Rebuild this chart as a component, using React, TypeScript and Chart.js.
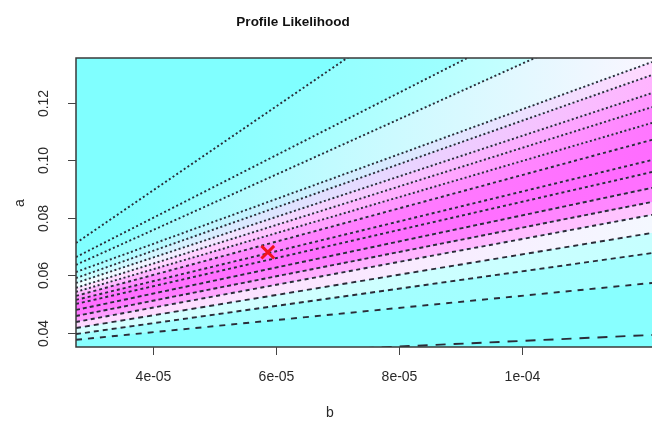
import { useEffect, useRef } from "react";
import { Chart, registerables } from "chart.js";

Chart.register(...registerables);

// ---------- text ----------
const chartTitle = "Profile Likelihood";
const xTitle = "b";
const yTitle = "a";

// ---------- axes ----------
const bRange = [2.75e-5, 1.212e-4];
const aRange = [0.035, 0.1356];
const xTickValues = [4e-5, 6e-5, 8e-5, 1e-4];
const xTickLabels = ["4e-05", "6e-05", "8e-05", "1e-04"];
const yTickValues = [0.04, 0.06, 0.08, 0.1, 0.12];
const yTickLabels = ["0.04", "0.06", "0.08", "0.10", "0.12"];

// ---------- contour lines (value of a read at the left and right edge of b-range) ----------
const contourLeftA = [
  0.0712, 0.0663, 0.0636, 0.0611, 0.059, 0.0573, 0.0556, 0.0542, 0.0528,
  0.0514, 0.05, 0.0479, 0.0458, 0.0437, 0.0416, 0.0395, 0.0375, 0.03,
];
const contourRightA = [
  0.208, 0.1683, 0.154, 0.1342, 0.1297, 0.1234, 0.1185, 0.113, 0.1071,
  0.1001, 0.0959, 0.0904, 0.0855, 0.081, 0.0747, 0.0677, 0.0573, 0.0392,
];

// ---------- maximum likelihood estimate ----------
const mleB = [5.87e-5];
const mleA = [0.068];

// ---------- styles ----------
const bandLeftColors = [
  null, "#80FFFF", "#86FFFF", "#94FFFF", "#ACFFFF", "#CCFFFF", "#EEFFFF",
  "#FFE4FF", "#FFBEFF", "#FF90FF", "#FF74FF", "#FF6EFF", "#FF78FF",
  "#FF9CFF", "#FFD8FF", "#D6FFFF", "#A4FFFF", "#88FFFF",
];
const bandRightColors = [
  null, "#AEFFFF", "#D8FFFF", "#FAF6FF", "#FFD8FF", "#FFB4FF", "#FF96FF",
  "#FF84FF", "#FF76FF", "#FF6CFF", "#FF6AFF", "#FF70FF", "#FF88FF",
  "#FFC6FF", "#F4F8FF", "#C6FFFF", "#A2FFFF", "#88FFFF",
];
const lineDashes = [
  [2, 2.5], [2, 2.5], [2, 2.5], [2, 2.5], [2, 2.5], [2, 2.5], [2, 2.5],
  [2, 2.5], [3, 3], [3, 3], [3, 3], [4, 3], [4, 3], [4, 3.5], [5, 4],
  [5, 4], [6, 6], [10, 8],
];
const lineColor = "#2a2c38";
const cyan = "#80FFFF";

const framePlugin = {
  id: "frame",
  beforeDraw(chart: any) {
    const { ctx, chartArea: a } = chart;
    ctx.save();
    ctx.fillStyle = cyan;
    ctx.fillRect(a.left, a.top, a.right - a.left, a.bottom - a.top);
    ctx.restore();
  },
  afterDraw(chart: any) {
    const { ctx, chartArea: a } = chart;
    const xs = chart.scales.x;
    const ys = chart.scales.y;
    ctx.save();
    ctx.strokeStyle = "#3a3a3a";
    ctx.lineWidth = 1.5;
    ctx.beginPath();
    ctx.moveTo(a.right + 2, a.top);
    ctx.lineTo(a.left, a.top);
    ctx.lineTo(a.left, a.bottom);
    ctx.lineTo(a.right + 2, a.bottom);
    ctx.stroke();

    ctx.lineWidth = 1;
    ctx.strokeStyle = "#444";
    ctx.fillStyle = "#2a2a2a";
    ctx.font = "14px 'Liberation Sans', Arial, sans-serif";
    ctx.textAlign = "center";
    ctx.textBaseline = "middle";
    xTickValues.forEach((v, i) => {
      const px = Math.round(xs.getPixelForValue(v)) + 0.5;
      ctx.beginPath();
      ctx.moveTo(px, a.bottom);
      ctx.lineTo(px, a.bottom + 8);
      ctx.stroke();
      ctx.fillText(xTickLabels[i], px, a.bottom + 30);
    });
    yTickValues.forEach((v, i) => {
      const py = Math.round(ys.getPixelForValue(v)) + 0.5;
      ctx.beginPath();
      ctx.moveTo(a.left - 8, py);
      ctx.lineTo(a.left, py);
      ctx.stroke();
      ctx.save();
      ctx.translate(a.left - 32, py);
      ctx.rotate(-Math.PI / 2);
      ctx.fillText(yTickLabels[i], 0, 0);
      ctx.restore();
    });
    ctx.fillText(xTitle, 330, 413);
    ctx.save();
    ctx.translate(20, 203);
    ctx.rotate(-Math.PI / 2);
    ctx.fillText(yTitle, 0, 0);
    ctx.restore();
    ctx.fillStyle = "#111";
    ctx.font = "bold 13.5px 'Liberation Sans', Arial, sans-serif";
    ctx.fillText(chartTitle, 293, 22);
    ctx.restore();
  },
};

export default function App() {
  const ref = useRef<HTMLCanvasElement | null>(null);
  useEffect(() => {
    if (!ref.current) return;
    const contourSets = contourLeftA.map((aL, i) => ({
      type: "line",
      data: [
        { x: bRange[0], y: aL },
        { x: bRange[1], y: contourRightA[i] },
      ],
      borderColor: lineColor,
      borderWidth: 1.9,
      borderDash: lineDashes[i],
      pointRadius: 0,
      tension: 0,
      fill: i === 0 ? false : "-1",
      backgroundColor: (c: any) => {
        const ca = c.chart.chartArea;
        const left = bandLeftColors[i] || cyan;
        const right = bandRightColors[i] || cyan;
        if (!ca) return left;
        const g = c.chart.ctx.createLinearGradient(ca.left, 0, ca.right, 0);
        g.addColorStop(0, left);
        g.addColorStop(1, right);
        return g;
      },
    }));
    const mleSet = {
      type: "line",
      data: mleB.map((b, i) => ({ x: b, y: mleA[i] })),
      showLine: false,
      fill: false,
      pointStyle: "crossRot",
      pointRadius: 9,
      pointBorderWidth: 3,
      pointBorderColor: "#F0141E",
      pointBackgroundColor: "#F0141E",
      order: -1,
    };
    const chart = new Chart(ref.current, {
      type: "line",
      data: { datasets: [...contourSets, mleSet] as any },
      options: {
        responsive: false,
        animation: false,
        events: [],
        layout: { autoPadding: false, padding: { left: 76, top: 58, right: 0, bottom: 74 } },
        scales: {
          x: { type: "linear", min: bRange[0], max: bRange[1], display: false },
          y: { type: "linear", min: aRange[0], max: aRange[1], display: false },
        },
        plugins: {
          legend: { display: false },
          tooltip: { enabled: false },
          filler: { drawTime: "beforeDatasetsDraw" },
        },
      } as any,
      plugins: [framePlugin],
    });
    return () => chart.destroy();
  }, []);
  return (
    <div style={{ position: "fixed", left: 0, top: 0, width: 652, height: 421, background: "#fff" }}>
      <canvas ref={ref} width={652} height={421} style={{ display: "block" }} />
    </div>
  );
}
